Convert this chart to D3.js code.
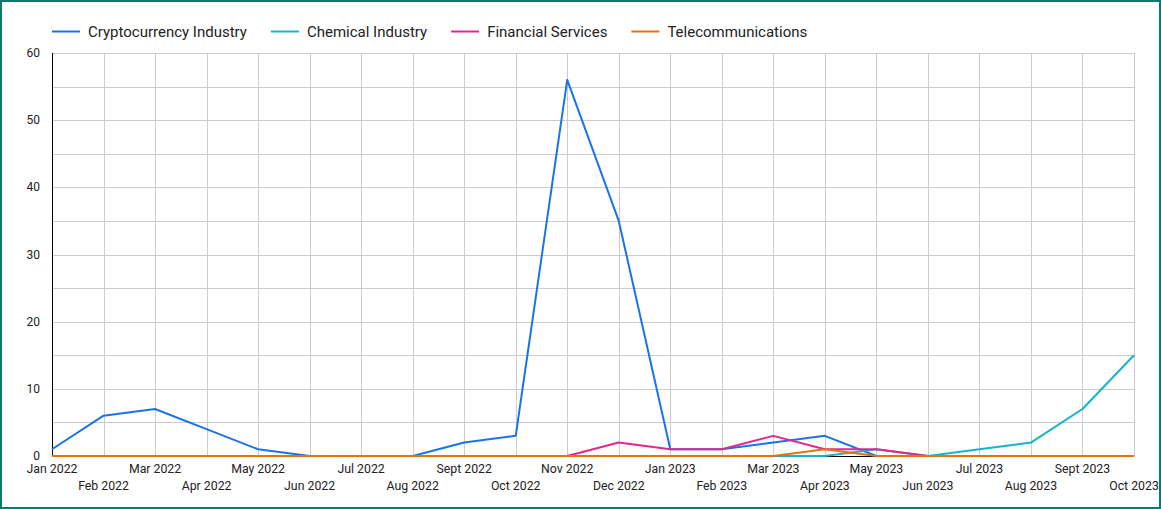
<!DOCTYPE html>
<html><head><meta charset="utf-8">
<script src="https://cdn.jsdelivr.net/npm/d3@7"></script>
<style>
html,body{margin:0;padding:0;background:#fff;}
svg{display:block;font-family:Roboto,"Noto Sans",sans-serif;}
</style></head>
<body>
<svg id="chart" width="1161" height="509"></svg>
<script>
const months = ["Jan 2022","Feb 2022","Mar 2022","Apr 2022","May 2022","Jun 2022","Jul 2022","Aug 2022","Sept 2022","Oct 2022","Nov 2022","Dec 2022","Jan 2023","Feb 2023","Mar 2023","Apr 2023","May 2023","Jun 2023","Jul 2023","Aug 2023","Sept 2023","Oct 2023"];
const seriesNames = ["Cryptocurrency Industry","Chemical Industry","Financial Services","Telecommunications"];
const seriesColors = ["#1a73e8","#12b5cb","#e52592","#e8710a"];
const crypto    = [1,6,7,4,1,0,0,0,2,3,56,35,1,1,2,3,0,0,0,0,0,0];
const chemical  = [0,0,0,0,0,0,0,0,0,0,0,0,0,0,0,0,1,0,1,2,7,15];
const financial = [0,0,0,0,0,0,0,0,0,0,0,2,1,1,3,1,1,0,0,0,0,0];
const telecom   = [0,0,0,0,0,0,0,0,0,0,0,0,0,0,0,1,0,0,0,0,0,0];
const yTicks = [0,10,20,30,40,50,60];
const yGrid = [0,5,10,15,20,25,30,35,40,45,50,55,60];

const allSeries = [crypto, chemical, financial, telecom];
const svg = d3.select("#chart");
const W = 1161, H = 509;
const m = {left:52, right:1134, top:53, bottom:456};

// border
svg.append("rect").attr("x",1).attr("y",1).attr("width",W-2).attr("height",H-2)
  .attr("fill","#fff").attr("stroke","#0b7a6c").attr("stroke-width",2);

const x = d3.scalePoint().domain(months).range([m.left, m.right]);
const y = d3.scaleLinear().domain([0,60]).range([m.bottom, m.top]);

// grid
const g = svg.append("g");
g.selectAll("line.h").data(yGrid).join("line")
  .attr("x1",m.left).attr("x2",m.right)
  .attr("y1",d=>Math.round(y(d))+0.5).attr("y2",d=>Math.round(y(d))+0.5)
  .attr("stroke","#cccccc").attr("stroke-width",1);
g.selectAll("line.v").data(months).join("line")
  .attr("x1",d=>Math.round(x(d))+0.5).attr("x2",d=>Math.round(x(d))+0.5)
  .attr("y1",m.top).attr("y2",m.bottom)
  .attr("stroke","#cccccc").attr("stroke-width",1);

// y axis labels
svg.append("g").selectAll("text").data(yTicks).join("text")
  .attr("x",40).attr("y",d=>y(d)+4)
  .attr("text-anchor","end").attr("font-size",12).attr("fill","#222")
  .text(d=>d);

// x axis labels
svg.append("g").selectAll("text").data(months).join("text")
  .attr("x",d=>x(d))
  .attr("y",(d,i)=> i%2===0 ? 473 : 490)
  .attr("text-anchor","middle").attr("font-size",12.3).attr("fill","#222")
  .text(d=>d);

// axis lines
svg.append("line").attr("x1",m.left+0.5).attr("x2",m.left+0.5).attr("y1",m.top).attr("y2",m.bottom+1)
  .attr("stroke","#000").attr("stroke-width",1);
svg.append("line").attr("x1",m.left).attr("x2",m.right).attr("y1",m.bottom+0.5).attr("y2",m.bottom+0.5)
  .attr("stroke","#000").attr("stroke-width",1);

// lines
const line = d3.line().x((d,i)=>x(months[i])).y(d=>y(d));
allSeries.forEach((s,k)=>{
  svg.append("path").datum(s).attr("d",line)
    .attr("fill","none").attr("stroke",seriesColors[k]).attr("stroke-width",2)
    .attr("stroke-linejoin","round");
});

// legend
const leg = svg.append("g");
let lx = 52;
seriesNames.forEach((n,k)=>{
  leg.append("line").attr("x1",lx).attr("x2",lx+28).attr("y1",31.5).attr("y2",31.5)
    .attr("stroke",seriesColors[k]).attr("stroke-width",2);
  const t = leg.append("text").attr("x",lx+36).attr("y",37).attr("font-size",15).attr("fill","#222").text(n);
  const w = t.node().getComputedTextLength();
  lx = lx + 36 + w + 24;
});
</script>
</body></html>
